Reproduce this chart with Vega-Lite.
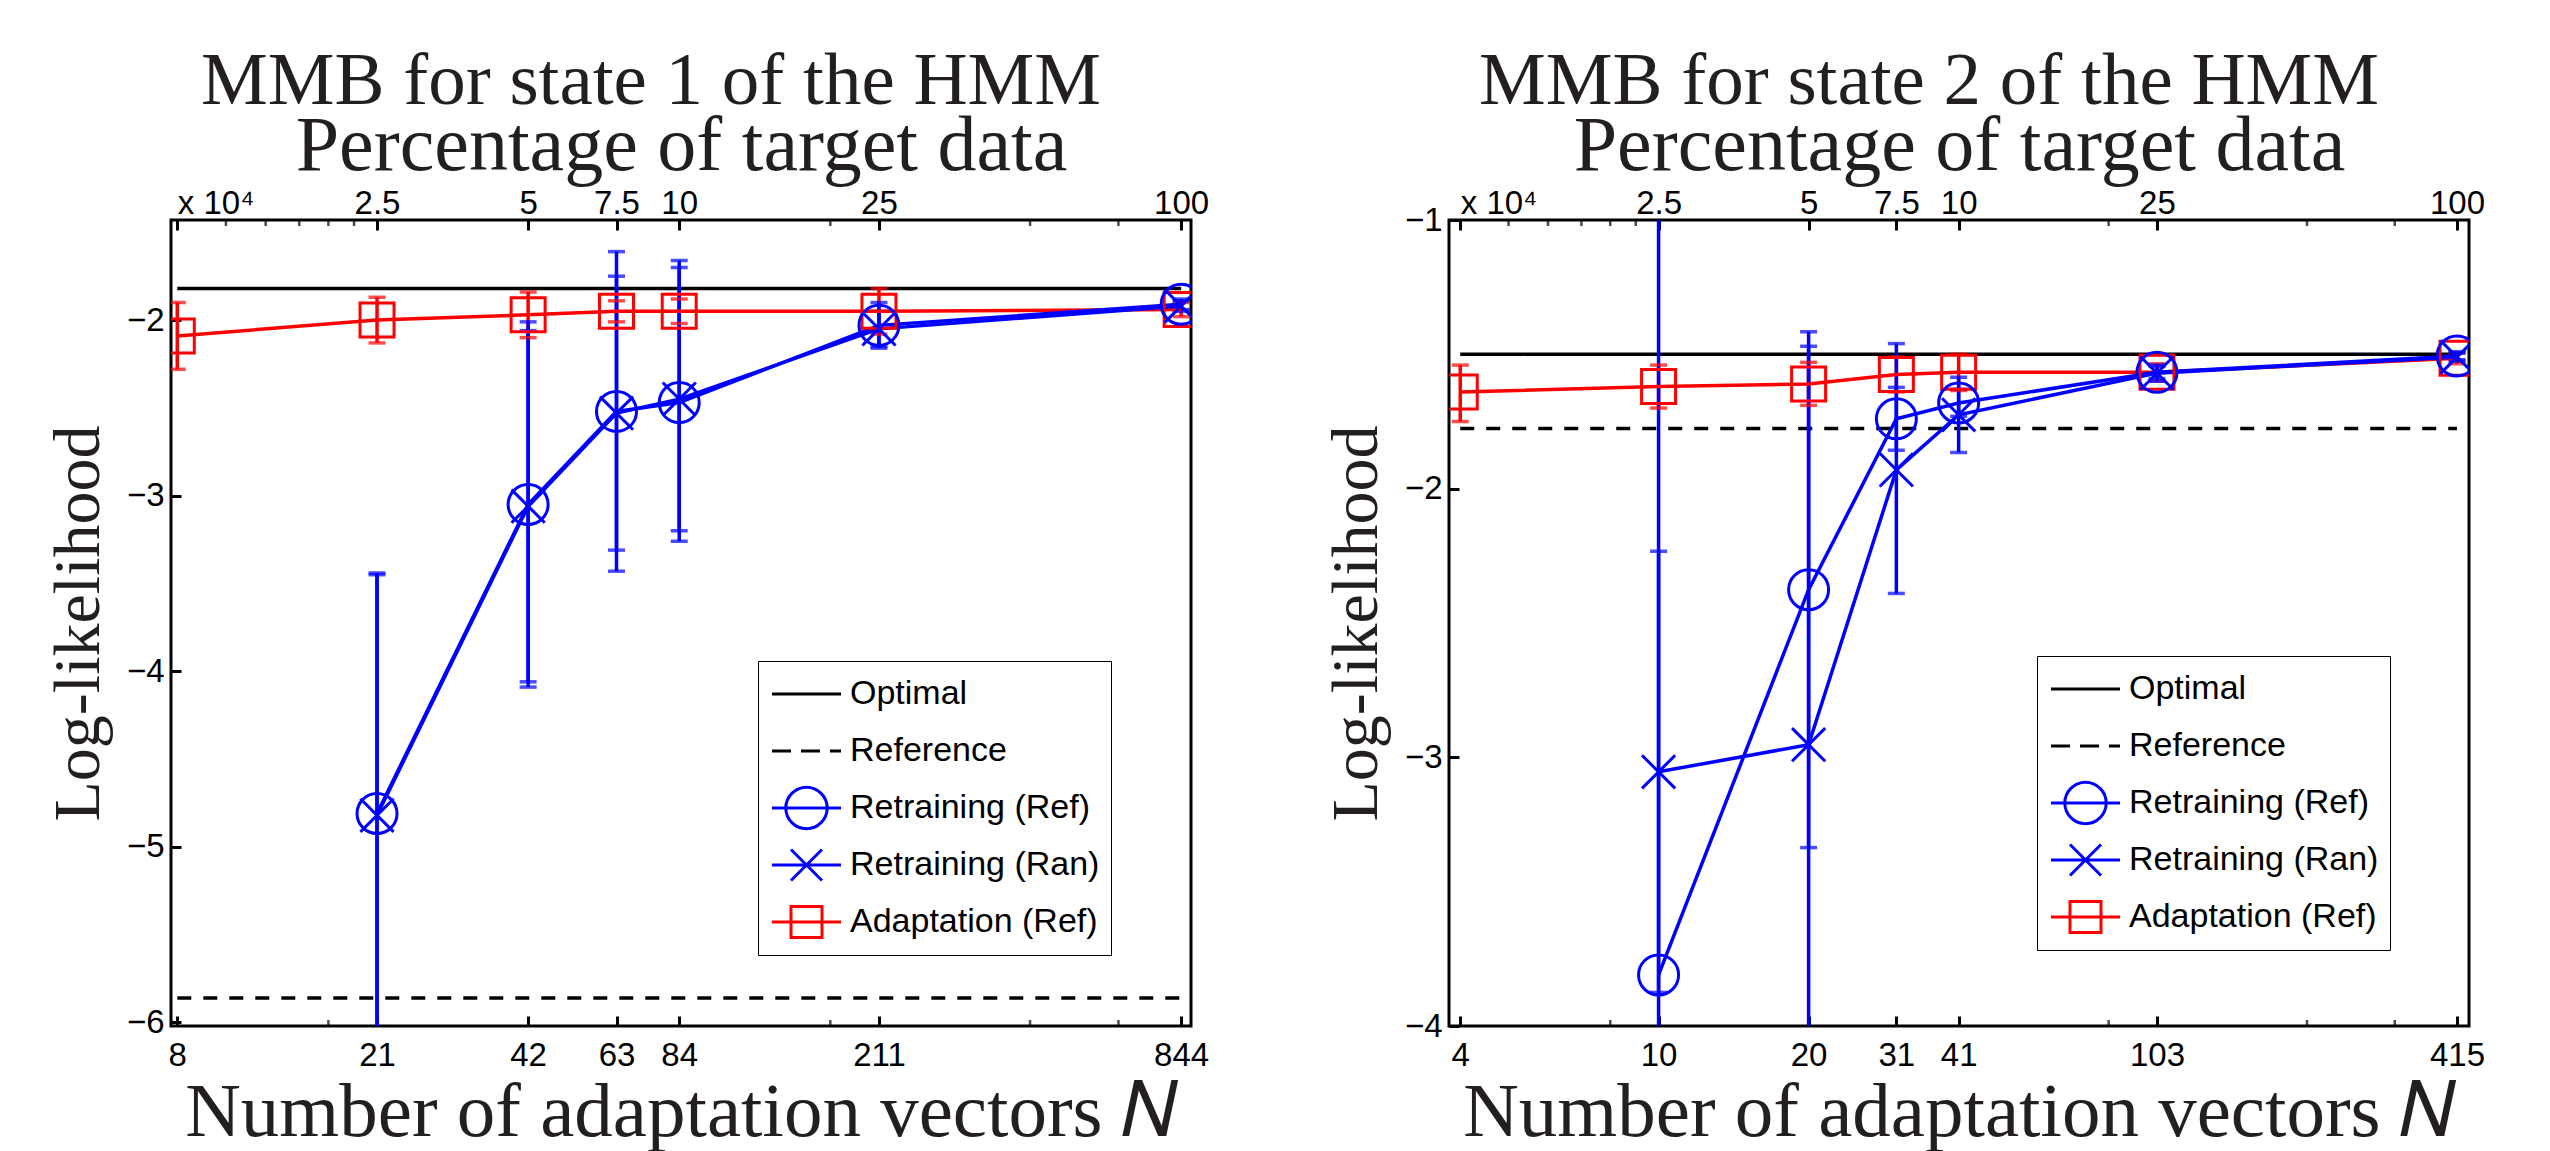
{
  "$schema": "https://vega.github.io/schema/vega-lite/v6.json",
  "background": "white",
  "padding": {"left": 43, "top": 42, "right": 0, "bottom": 0},
  "datasets": {
    "s1": [
      {"series": "Adaptation (Ref)", "x": 8.44, "y": -2.09, "lo": -2.28, "hi": -1.90},
      {"series": "Adaptation (Ref)", "x": 21.1, "y": -2.00, "lo": -2.13, "hi": -1.87},
      {"series": "Adaptation (Ref)", "x": 42.2, "y": -1.97, "lo": -2.10, "hi": -1.84},
      {"series": "Adaptation (Ref)", "x": 63.3, "y": -1.95, "lo": -2.01, "hi": -1.89},
      {"series": "Adaptation (Ref)", "x": 84.4, "y": -1.95, "lo": -2.02, "hi": -1.88},
      {"series": "Adaptation (Ref)", "x": 211, "y": -1.95, "lo": -2.08, "hi": -1.82},
      {"series": "Adaptation (Ref)", "x": 844, "y": -1.94, "lo": -1.98, "hi": -1.90},
      {"series": "Retraining (Ref)", "x": 21.1, "y": -4.81, "lo": -6.18, "hi": -3.44},
      {"series": "Retraining (Ref)", "x": 42.2, "y": -3.05, "lo": -4.09, "hi": -2.01},
      {"series": "Retraining (Ref)", "x": 63.3, "y": -2.52, "lo": -3.43, "hi": -1.61},
      {"series": "Retraining (Ref)", "x": 84.4, "y": -2.47, "lo": -3.26, "hi": -1.66},
      {"series": "Retraining (Ref)", "x": 211, "y": -2.03, "lo": -2.16, "hi": -1.90},
      {"series": "Retraining (Ref)", "x": 844, "y": -1.91, "lo": -1.94, "hi": -1.88},
      {"series": "Retraining (Ran)", "x": 21.1, "y": -4.82, "lo": -6.19, "hi": -3.45},
      {"series": "Retraining (Ran)", "x": 42.2, "y": -3.06, "lo": -4.06, "hi": -2.06},
      {"series": "Retraining (Ran)", "x": 63.3, "y": -2.53, "lo": -3.31, "hi": -1.75},
      {"series": "Retraining (Ran)", "x": 84.4, "y": -2.45, "lo": -3.20, "hi": -1.70},
      {"series": "Retraining (Ran)", "x": 211, "y": -2.05, "lo": -2.15, "hi": -1.95},
      {"series": "Retraining (Ran)", "x": 844, "y": -1.92, "lo": -1.95, "hi": -1.89}
    ],
    "h1": [
      {"series": "Optimal", "x": 8.44, "x2": 844, "y": -1.82},
      {"series": "Reference", "x": 8.44, "x2": 844, "y": -5.86}
    ],
    "m1": [
      {"side": "top", "x": 10.55}, {"side": "top", "x": 12.66}, {"side": "top", "x": 14.77}, {"side": "top", "x": 16.88}, {"side": "top", "x": 18.99},
      {"side": "top", "x": 168.8}, {"side": "top", "x": 422}, {"side": "top", "x": 633},
      {"side": "bottom", "x": 16.88}, {"side": "bottom", "x": 168.8}, {"side": "bottom", "x": 422}, {"side": "bottom", "x": 633}
    ],
    "s2": [
      {"series": "Adaptation (Ref)", "x": 4.15, "y": -1.64, "lo": -1.75, "hi": -1.54},
      {"series": "Adaptation (Ref)", "x": 10.375, "y": -1.62, "lo": -1.70, "hi": -1.54},
      {"series": "Adaptation (Ref)", "x": 20.75, "y": -1.61, "lo": -1.69, "hi": -1.53},
      {"series": "Adaptation (Ref)", "x": 31.125, "y": -1.575, "lo": -1.64, "hi": -1.51},
      {"series": "Adaptation (Ref)", "x": 41.5, "y": -1.567, "lo": -1.635, "hi": -1.50},
      {"series": "Adaptation (Ref)", "x": 103.75, "y": -1.567, "lo": -1.60, "hi": -1.535},
      {"series": "Adaptation (Ref)", "x": 415, "y": -1.515, "lo": -1.535, "hi": -1.495},
      {"series": "Retraining (Ref)", "x": 10.375, "y": -3.81, "lo": -6.7, "hi": -0.9},
      {"series": "Retraining (Ref)", "x": 20.75, "y": -2.376, "lo": -3.336, "hi": -1.416},
      {"series": "Retraining (Ref)", "x": 31.125, "y": -1.74, "lo": -1.857, "hi": -1.623},
      {"series": "Retraining (Ref)", "x": 41.5, "y": -1.681, "lo": -1.73, "hi": -1.63},
      {"series": "Retraining (Ref)", "x": 103.75, "y": -1.567, "lo": -1.59, "hi": -1.545},
      {"series": "Retraining (Ref)", "x": 415, "y": -1.506, "lo": -1.52, "hi": -1.49},
      {"series": "Retraining (Ran)", "x": 10.375, "y": -3.054, "lo": -3.875, "hi": -2.233},
      {"series": "Retraining (Ran)", "x": 20.75, "y": -2.953, "lo": -4.43, "hi": -1.47},
      {"series": "Retraining (Ran)", "x": 31.125, "y": -1.93, "lo": -2.39, "hi": -1.46},
      {"series": "Retraining (Ran)", "x": 41.5, "y": -1.725, "lo": -1.865, "hi": -1.585},
      {"series": "Retraining (Ran)", "x": 103.75, "y": -1.57, "lo": -1.60, "hi": -1.54},
      {"series": "Retraining (Ran)", "x": 415, "y": -1.51, "lo": -1.525, "hi": -1.495}
    ],
    "h2": [
      {"series": "Optimal", "x": 4.15, "x2": 415, "y": -1.50},
      {"series": "Reference", "x": 4.15, "x2": 415, "y": -1.776}
    ],
    "m2": [
      {"side": "top", "x": 5.1875}, {"side": "top", "x": 6.225}, {"side": "top", "x": 7.2625}, {"side": "top", "x": 8.3}, {"side": "top", "x": 9.3375},
      {"side": "top", "x": 83}, {"side": "top", "x": 207.5}, {"side": "top", "x": 311.25},
      {"side": "bottom", "x": 8.3}, {"side": "bottom", "x": 83}, {"side": "bottom", "x": 207.5}, {"side": "bottom", "x": 311.25}
    ],
    "leg": [
      {"series": "Optimal"},
      {"series": "Reference"},
      {"series": "Retraining (Ref)"},
      {"series": "Retraining (Ran)"},
      {"series": "Adaptation (Ref)"}
    ]
  },
  "spacing": 258,
  "bounds": "flush",
  "resolve": {"scale": {"stroke": "independent", "shape": "independent"}, "legend": {"stroke": "independent", "shape": "independent"}},
  "hconcat": [
    {
      "width": 1020,
      "height": 806,
      "title": {"text": "MMB for state 1 of the HMM", "font": "Liberation Serif", "fontSize": 75, "fontWeight": "normal", "color": "#231f20", "dx": -30, "offset": -13},
      "layer": [
        {
          "data": {"name": "h1"},
          "mark": {"type": "rule", "strokeWidth": 3.5, "color": "black"},
          "encoding": {
            "x": {"field": "x", "type": "quantitative", "scale": {"type": "log", "domain": [8.2, 883], "nice": false},
              "axis": {"orient": "bottom", "values": [8.44, 21.1, 42.2, 63.3, 84.4, 211, 844], "labelExpr": "'' + floor(datum.value)", "labelFont": "Liberation Sans", "labelFontSize": 33, "labelColor": "black", "tickSize": -10, "tickColor": "black", "tickWidth": 3, "labelPadding": 23, "domain": false, "grid": false, "labelFlush": false, "labelOverlap": false, "title": "Number of adaptation vectors 𝑁", "titleFont": "Liberation Serif", "titleFontSize": 77, "titleFontWeight": "normal", "titleColor": "#231f20", "titlePadding": 2}},
            "x2": {"field": "x2"},
            "y": {"field": "y", "type": "quantitative", "scale": {"domain": [-6.02, -1.43], "zero": false, "nice": false},
              "axis": {"values": [-6, -5, -4, -3, -2], "format": "d", "labelFont": "Liberation Sans", "labelFontSize": 33, "labelColor": "black", "tickSize": -10, "tickColor": "black", "tickWidth": 3, "labelPadding": 17, "domain": false, "grid": false, "labelFlush": false, "labelOverlap": false, "title": "Log-likelihood", "titleFont": "Liberation Serif", "titleFontSize": 66, "titleFontWeight": "normal", "titleColor": "#231f20", "titlePadding": 14}},
            "strokeDash": {"condition": {"test": "datum.series === 'Reference'", "value": [14, 12]}, "value": [1, 0]}
          }
        },
        {
          "data": {"name": "m1"},
          "transform": [{"filter": "datum.side === 'top'"}],
          "mark": {"type": "tick", "orient": "vertical", "size": 12, "thickness": 2.5, "color": "black", "clip": true},
          "encoding": {
            "x": {"field": "x", "type": "quantitative", "axis": null},
            "y": {"datum": -1.43, "type": "quantitative"}
          }
        },
        {
          "data": {"name": "m1"},
          "transform": [{"filter": "datum.side === 'bottom'"}],
          "mark": {"type": "tick", "orient": "vertical", "size": 12, "thickness": 2.5, "color": "black", "clip": true},
          "encoding": {
            "x": {"field": "x", "type": "quantitative", "axis": null},
            "y": {"datum": -6.02, "type": "quantitative"}
          }
        },
        {
          "data": {"name": "s1"},
          "mark": {"type": "rule", "strokeWidth": 3.5, "clip": true},
          "encoding": {
            "x": {"field": "x", "type": "quantitative", "axis": null},
            "y": {"field": "lo", "type": "quantitative"},
            "y2": {"field": "hi"},
            "color": {"condition": {"test": "datum.series === 'Adaptation (Ref)'", "value": "#ff0000"}, "value": "#0000ff"}
          }
        },
        {
          "data": {"name": "s1"},
          "mark": {"type": "tick", "orient": "horizontal", "size": 17, "thickness": 3.5, "clip": true},
          "encoding": {
            "x": {"field": "x", "type": "quantitative", "axis": null},
            "y": {"field": "lo", "type": "quantitative"},
            "color": {"condition": {"test": "datum.series === 'Adaptation (Ref)'", "value": "#ff0000"}, "value": "#0000ff"}
          }
        },
        {
          "data": {"name": "s1"},
          "mark": {"type": "tick", "orient": "horizontal", "size": 17, "thickness": 3.5, "clip": true},
          "encoding": {
            "x": {"field": "x", "type": "quantitative", "axis": null},
            "y": {"field": "hi", "type": "quantitative"},
            "color": {"condition": {"test": "datum.series === 'Adaptation (Ref)'", "value": "#ff0000"}, "value": "#0000ff"}
          }
        },
        {
          "data": {"name": "s1"},
          "mark": {"type": "line", "strokeWidth": 3.5, "clip": true},
          "encoding": {
            "x": {"field": "x", "type": "quantitative", "axis": null},
            "y": {"field": "y", "type": "quantitative"},
            "detail": {"field": "series"},
            "order": {"field": "x"},
            "color": {"condition": {"test": "datum.series === 'Adaptation (Ref)'", "value": "#ff0000"}, "value": "#0000ff"}
          }
        },
        {
          "data": {"name": "s1"},
          "mark": {"type": "point", "filled": false, "strokeWidth": 3, "opacity": 1, "clip": true},
          "encoding": {
            "x": {"field": "x", "type": "quantitative", "axis": null},
            "y": {"field": "y", "type": "quantitative"},
            "shape": {"condition": [{"test": "datum.series === 'Retraining (Ref)'", "value": "circle"}, {"test": "datum.series === 'Retraining (Ran)'", "value": "M-1,-1L1,1M-1,1L1,-1"}], "value": "square"},
            "size": {"condition": [{"test": "datum.series === 'Retraining (Ref)'", "value": 1600}, {"test": "datum.series === 'Retraining (Ran)'", "value": 1100}], "value": 1156},
            "color": {"condition": {"test": "datum.series === 'Adaptation (Ref)'", "value": "#ff0000"}, "value": "#0000ff"}
          }
        },
        {
          "data": {"name": "leg"},
          "mark": {"type": "point", "filled": false, "strokeWidth": 3, "opacity": 1, "clip": true},
          "encoding": {
            "x": {"datum": 1, "type": "quantitative",
              "axis": {"orient": "top", "values": [8.44, 21.1, 42.2, 63.3, 84.4, 211, 844], "labelExpr": "datum.value < 10 ? 'x 10⁴' : format(datum.value / 8.44, '~g')", "labelAlign": {"condition": {"test": "datum.value < 10", "value": "left"}, "value": "center"}, "labelFont": "Liberation Sans", "labelFontSize": 33, "labelColor": "black", "tickSize": -10, "tickColor": "black", "tickWidth": 3, "labelPadding": 10, "domain": false, "grid": false, "labelFlush": false, "labelOverlap": false, "title": "Percentage of target data", "titleFont": "Liberation Serif", "titleFontSize": 78, "titleFontWeight": "normal", "titleColor": "#231f20", "titlePadding": 2}},
            "y": {"datum": -10, "type": "quantitative"},
            "stroke": {"field": "series", "type": "nominal",
              "scale": {"domain": ["Optimal", "Reference", "Retraining (Ref)", "Retraining (Ran)", "Adaptation (Ref)"], "range": ["#000000", "#000000", "#0000ff", "#0000ff", "#ff0000"]},
              "legend": {"orient": "none", "legendX": 587, "legendY": 441, "title": null, "labelFont": "Liberation Sans", "labelFontSize": 34, "labelColor": "black", "labelLimit": 0, "symbolSize": 1600, "symbolStrokeWidth": 3, "strokeColor": "black", "fillColor": "white", "padding": 11.5, "rowPadding": 2, "gridAlign": "all", "labelOffset": 37.5}},
            "shape": {"field": "series", "type": "nominal",
              "scale": {"domain": ["Optimal", "Reference", "Retraining (Ref)", "Retraining (Ran)", "Adaptation (Ref)"], "range": ["M-0.95,0L2.5,0", "M-0.95,0L0,0M0.5,0L1.45,0M1.95,0L2.5,0", "M-0.95,0L2.5,0M1.81,0A1.035,1.035 0 1 1 -0.26,0A1.035,1.035 0 1 1 1.81,0", "M-0.95,0L2.5,0M0,-0.775L1.55,0.775M0,0.775L1.55,-0.775", "M-0.95,0L2.5,0M0,-0.775L1.55,-0.775L1.55,0.775L0,0.775Z"]},
              "legend": {"orient": "none", "legendX": 587, "legendY": 441, "title": null, "labelFont": "Liberation Sans", "labelFontSize": 34, "labelColor": "black", "labelLimit": 0, "symbolSize": 1600, "symbolStrokeWidth": 3, "strokeColor": "black", "fillColor": "white", "padding": 11.5, "rowPadding": 2, "gridAlign": "all", "labelOffset": 37.5}}
          }
        }
      ],
      "resolve": {"axis": {"x": "independent"}}
    },
    {
      "width": 1020,
      "height": 806,
      "title": {"text": "MMB for state 2 of the HMM", "font": "Liberation Serif", "fontSize": 75, "fontWeight": "normal", "color": "#231f20", "dx": -30, "offset": -13},
      "layer": [
        {
          "data": {"name": "h2"},
          "mark": {"type": "rule", "strokeWidth": 3.5, "color": "black"},
          "encoding": {
            "x": {"field": "x", "type": "quantitative", "scale": {"type": "log", "domain": [3.94, 438.6], "nice": false},
              "axis": {"orient": "bottom", "values": [4.15, 10.375, 20.75, 31.125, 41.5, 103.75, 415], "labelExpr": "'' + floor(datum.value)", "labelFont": "Liberation Sans", "labelFontSize": 33, "labelColor": "black", "tickSize": -10, "tickColor": "black", "tickWidth": 3, "labelPadding": 23, "domain": false, "grid": false, "labelFlush": false, "labelOverlap": false, "title": "Number of adaptation vectors 𝑁", "titleFont": "Liberation Serif", "titleFontSize": 77, "titleFontWeight": "normal", "titleColor": "#231f20", "titlePadding": 2}},
            "x2": {"field": "x2"},
            "y": {"field": "y", "type": "quantitative", "scale": {"domain": [-4, -1], "zero": false, "nice": false},
              "axis": {"values": [-4, -3, -2, -1], "format": "d", "labelFont": "Liberation Sans", "labelFontSize": 33, "labelColor": "black", "tickSize": -10, "tickColor": "black", "tickWidth": 3, "labelPadding": 17, "domain": false, "grid": false, "labelFlush": false, "labelOverlap": false, "title": "Log-likelihood", "titleFont": "Liberation Serif", "titleFontSize": 66, "titleFontWeight": "normal", "titleColor": "#231f20", "titlePadding": 14}},
            "strokeDash": {"condition": {"test": "datum.series === 'Reference'", "value": [14, 12]}, "value": [1, 0]}
          }
        },
        {
          "data": {"name": "m2"},
          "transform": [{"filter": "datum.side === 'top'"}],
          "mark": {"type": "tick", "orient": "vertical", "size": 12, "thickness": 2.5, "color": "black", "clip": true},
          "encoding": {
            "x": {"field": "x", "type": "quantitative", "axis": null},
            "y": {"datum": -1, "type": "quantitative"}
          }
        },
        {
          "data": {"name": "m2"},
          "transform": [{"filter": "datum.side === 'bottom'"}],
          "mark": {"type": "tick", "orient": "vertical", "size": 12, "thickness": 2.5, "color": "black", "clip": true},
          "encoding": {
            "x": {"field": "x", "type": "quantitative", "axis": null},
            "y": {"datum": -4, "type": "quantitative"}
          }
        },
        {
          "data": {"name": "s2"},
          "mark": {"type": "rule", "strokeWidth": 3.5, "clip": true},
          "encoding": {
            "x": {"field": "x", "type": "quantitative", "axis": null},
            "y": {"field": "lo", "type": "quantitative"},
            "y2": {"field": "hi"},
            "color": {"condition": {"test": "datum.series === 'Adaptation (Ref)'", "value": "#ff0000"}, "value": "#0000ff"}
          }
        },
        {
          "data": {"name": "s2"},
          "mark": {"type": "tick", "orient": "horizontal", "size": 17, "thickness": 3.5, "clip": true},
          "encoding": {
            "x": {"field": "x", "type": "quantitative", "axis": null},
            "y": {"field": "lo", "type": "quantitative"},
            "color": {"condition": {"test": "datum.series === 'Adaptation (Ref)'", "value": "#ff0000"}, "value": "#0000ff"}
          }
        },
        {
          "data": {"name": "s2"},
          "mark": {"type": "tick", "orient": "horizontal", "size": 17, "thickness": 3.5, "clip": true},
          "encoding": {
            "x": {"field": "x", "type": "quantitative", "axis": null},
            "y": {"field": "hi", "type": "quantitative"},
            "color": {"condition": {"test": "datum.series === 'Adaptation (Ref)'", "value": "#ff0000"}, "value": "#0000ff"}
          }
        },
        {
          "data": {"name": "s2"},
          "mark": {"type": "line", "strokeWidth": 3.5, "clip": true},
          "encoding": {
            "x": {"field": "x", "type": "quantitative", "axis": null},
            "y": {"field": "y", "type": "quantitative"},
            "detail": {"field": "series"},
            "order": {"field": "x"},
            "color": {"condition": {"test": "datum.series === 'Adaptation (Ref)'", "value": "#ff0000"}, "value": "#0000ff"}
          }
        },
        {
          "data": {"name": "s2"},
          "mark": {"type": "point", "filled": false, "strokeWidth": 3, "opacity": 1, "clip": true},
          "encoding": {
            "x": {"field": "x", "type": "quantitative", "axis": null},
            "y": {"field": "y", "type": "quantitative"},
            "shape": {"condition": [{"test": "datum.series === 'Retraining (Ref)'", "value": "circle"}, {"test": "datum.series === 'Retraining (Ran)'", "value": "M-1,-1L1,1M-1,1L1,-1"}], "value": "square"},
            "size": {"condition": [{"test": "datum.series === 'Retraining (Ref)'", "value": 1600}, {"test": "datum.series === 'Retraining (Ran)'", "value": 1100}], "value": 1156},
            "color": {"condition": {"test": "datum.series === 'Adaptation (Ref)'", "value": "#ff0000"}, "value": "#0000ff"}
          }
        },
        {
          "data": {"name": "leg"},
          "mark": {"type": "point", "filled": false, "strokeWidth": 3, "opacity": 1, "clip": true},
          "encoding": {
            "x": {"datum": 1, "type": "quantitative",
              "axis": {"orient": "top", "values": [4.15, 10.375, 20.75, 31.125, 41.5, 103.75, 415], "labelExpr": "datum.value < 5 ? 'x 10⁴' : format(datum.value / 4.15, '~g')", "labelAlign": {"condition": {"test": "datum.value < 5", "value": "left"}, "value": "center"}, "labelFont": "Liberation Sans", "labelFontSize": 33, "labelColor": "black", "tickSize": -10, "tickColor": "black", "tickWidth": 3, "labelPadding": 10, "domain": false, "grid": false, "labelFlush": false, "labelOverlap": false, "title": "Percentage of target data", "titleFont": "Liberation Serif", "titleFontSize": 78, "titleFontWeight": "normal", "titleColor": "#231f20", "titlePadding": 2}},
            "y": {"datum": -10, "type": "quantitative"},
            "stroke": {"field": "series", "type": "nominal",
              "scale": {"domain": ["Optimal", "Reference", "Retraining (Ref)", "Retraining (Ran)", "Adaptation (Ref)"], "range": ["#000000", "#000000", "#0000ff", "#0000ff", "#ff0000"]},
              "legend": {"orient": "none", "legendX": 588, "legendY": 436, "title": null, "labelFont": "Liberation Sans", "labelFontSize": 34, "labelColor": "black", "labelLimit": 0, "symbolSize": 1600, "symbolStrokeWidth": 3, "strokeColor": "black", "fillColor": "white", "padding": 11.5, "rowPadding": 2, "gridAlign": "all", "labelOffset": 37.5}},
            "shape": {"field": "series", "type": "nominal",
              "scale": {"domain": ["Optimal", "Reference", "Retraining (Ref)", "Retraining (Ran)", "Adaptation (Ref)"], "range": ["M-0.95,0L2.5,0", "M-0.95,0L0,0M0.5,0L1.45,0M1.95,0L2.5,0", "M-0.95,0L2.5,0M1.81,0A1.035,1.035 0 1 1 -0.26,0A1.035,1.035 0 1 1 1.81,0", "M-0.95,0L2.5,0M0,-0.775L1.55,0.775M0,0.775L1.55,-0.775", "M-0.95,0L2.5,0M0,-0.775L1.55,-0.775L1.55,0.775L0,0.775Z"]},
              "legend": {"orient": "none", "legendX": 588, "legendY": 436, "title": null, "labelFont": "Liberation Sans", "labelFontSize": 34, "labelColor": "black", "labelLimit": 0, "symbolSize": 1600, "symbolStrokeWidth": 3, "strokeColor": "black", "fillColor": "white", "padding": 11.5, "rowPadding": 2, "gridAlign": "all", "labelOffset": 37.5}}
          }
        }
      ],
      "resolve": {"axis": {"x": "independent"}}
    }
  ],
  "config": {
    "view": {"stroke": "black", "strokeWidth": 3},
    "font": "Liberation Sans"
  }
}
